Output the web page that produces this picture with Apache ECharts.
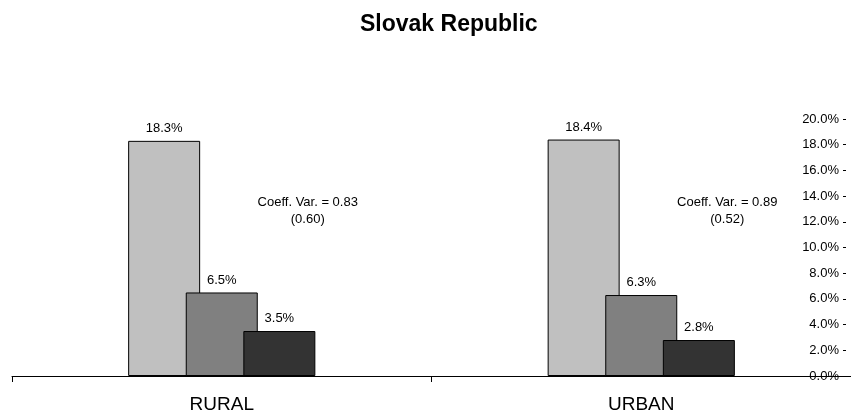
<!DOCTYPE html>
<html>
<head>
<meta charset="utf-8">
<script src="https://cdn.jsdelivr.net/npm/echarts@6/dist/echarts.min.js"></script>
<style>html,body{margin:0;padding:0;background:#fff}#c{width:851px;height:416px}</style>
</head>
<body>
<div id="c"></div>
<script>
var titleText = "Slovak Republic";
var categories = ["RURAL", "URBAN"];
var series1 = [18.3, 18.4];
var series2 = [6.5, 6.3];
var series3 = [3.5, 2.8];
var seriesColors = ["#C0C0C0", "#808080", "#333333"];
var yTicks = [0, 2, 4, 6, 8, 10, 12, 14, 16, 18, 20];
var coeffLines = [["Coeff. Var. = 0.83", "(0.60)"], ["Coeff. Var. = 0.89", "(0.52)"]];

var font = "'Liberation Sans', Arial, sans-serif";
var chart = echarts.init(document.getElementById('c'), null, {renderer: 'canvas'});

function mk(data, color) {
  return {
    type: 'bar', data: data, barWidth: 72, barGap: '-20%',
    itemStyle: {color: color, borderColor: '#000', borderWidth: 1},
    label: {show: true, position: 'top', distance: 6, formatter: function(p){return p.value.toFixed(1) + '%';},
      fontFamily: font, fontSize: 13, color: '#000'},
    animation: false
  };
}

var option = {
  animation: false,
  backgroundColor: '#fff',
  title: {text: titleText, left: 355, top: 8,
    textStyle: {fontFamily: font, fontSize: 23, fontWeight: 'bold', color: '#000'}},
  grid: {left: 12, right: -4, top: 119, bottom: 40, containLabel: false},
  xAxis: {
    type: 'category', data: categories,
    axisLine: {show: true, lineStyle: {color: '#000', width: 1}},
    axisTick: {show: true, length: 6, lineStyle: {color: '#000'}},
    axisLabel: {fontFamily: font, fontSize: 19, color: '#000', margin: 19},
    z: 10
  },
  yAxis: {
    type: 'value', position: 'right', offset: -8,
    min: yTicks[0], max: yTicks[yTicks.length-1], interval: 2,
    splitLine: {show: false},
    axisLine: {show: false},
    axisTick: {show: true, length: 3, lineStyle: {color: '#000'}},
    axisLabel: {inside: true, margin: 4, fontFamily: font, fontSize: 13, color: '#000',
      formatter: function(v){return v.toFixed(1) + '%';}}
  },
  series: [mk(series1, seriesColors[0]), mk(series2, seriesColors[1]), mk(series3, seriesColors[2])],
  graphic: []
};
chart.setOption(option);

var g = [];
categories.forEach(function(cat, i) {
  var p = chart.convertToPixel({gridIndex: 0}, [cat, 14]);
  coeffLines[i].forEach(function(t, j) {
    g.push({type: 'text', x: p[0] + 86, y: p[1] + 6 + j * 17,
      style: {text: t, fill: '#000', font: '13px ' + font, textAlign: 'center', textVerticalAlign: 'middle'}});
  });
});
chart.setOption({graphic: g});
</script>
</body>
</html>
